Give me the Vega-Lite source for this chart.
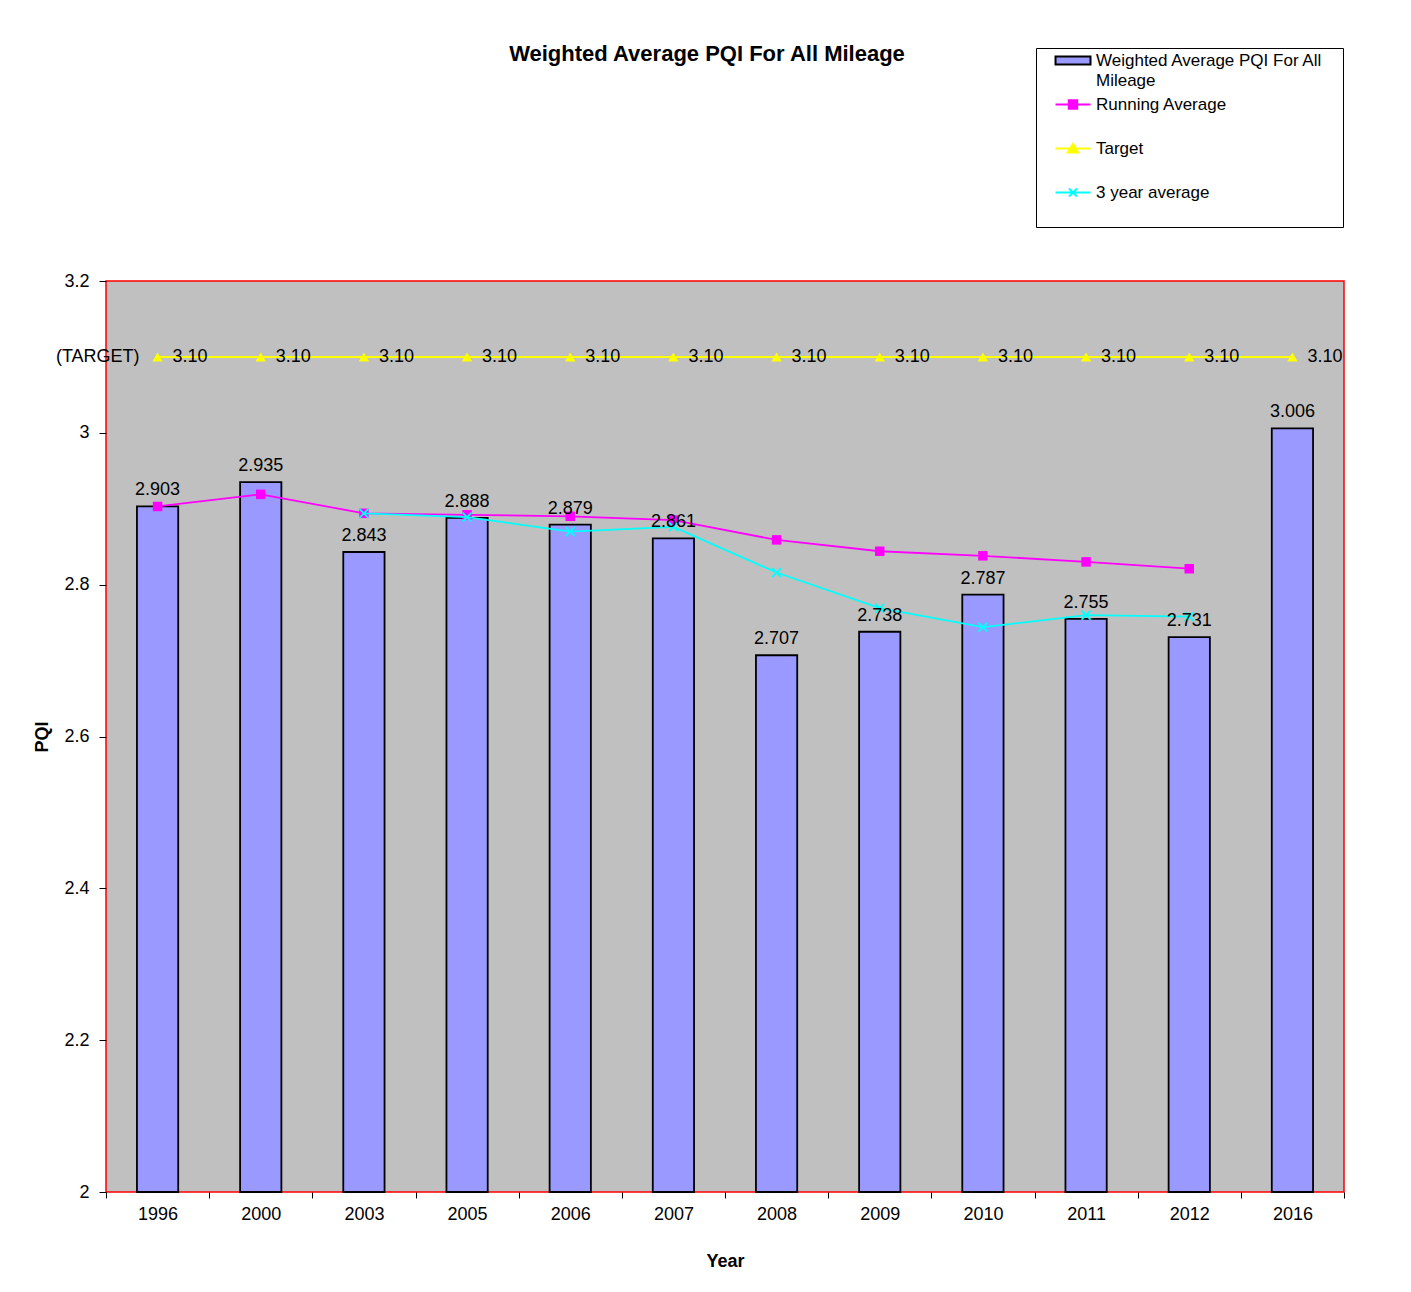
{
  "$schema": "https://vega.github.io/schema/vega-lite/v6.json",
  "width": 1238,
  "height": 911,
  "autosize": {"type": "none"},
  "padding": {"left": 106, "top": 281, "right": 67, "bottom": 100},
  "background": "white",
  "config": {
    "font": "Liberation Sans",
    "view": {"fill": "#C0C0C0", "stroke": "#FF0000", "strokeWidth": 1.5},
    "style": {"guide-label": {"lineHeight": 20}}
  },
  "title": {
    "text": "Weighted Average PQI For All Mileage",
    "fontSize": 22,
    "fontWeight": "bold",
    "font": "Liberation Sans",
    "color": "#000000",
    "anchor": "middle",
    "frame": "group",
    "dx": -18,
    "offset": -35,
    "baseline": "alphabetic"
  },
  "datasets": {
    "pqi": [
      {"Year": "1996", "PQI": 2.903, "Running": 2.903, "ThreeYr": null, "Target": 3.1},
      {"Year": "2000", "PQI": 2.935, "Running": 2.919, "ThreeYr": null, "Target": 3.1},
      {"Year": "2003", "PQI": 2.843, "Running": 2.894, "ThreeYr": 2.894, "Target": 3.1},
      {"Year": "2005", "PQI": 2.888, "Running": 2.892, "ThreeYr": 2.889, "Target": 3.1},
      {"Year": "2006", "PQI": 2.879, "Running": 2.890, "ThreeYr": 2.870, "Target": 3.1},
      {"Year": "2007", "PQI": 2.861, "Running": 2.885, "ThreeYr": 2.876, "Target": 3.1},
      {"Year": "2008", "PQI": 2.707, "Running": 2.859, "ThreeYr": 2.816, "Target": 3.1},
      {"Year": "2009", "PQI": 2.738, "Running": 2.844, "ThreeYr": 2.769, "Target": 3.1},
      {"Year": "2010", "PQI": 2.787, "Running": 2.838, "ThreeYr": 2.744, "Target": 3.1},
      {"Year": "2011", "PQI": 2.755, "Running": 2.830, "ThreeYr": 2.760, "Target": 3.1},
      {"Year": "2012", "PQI": 2.731, "Running": 2.821, "ThreeYr": 2.758, "Target": 3.1},
      {"Year": "2016", "PQI": 3.006, "Running": null, "ThreeYr": null, "Target": 3.1}
    ],
    "note": [
      {"Year": "1996", "Target": 3.1, "note": "(TARGET)"}
    ],
    "legendRows": [
      {"series": "Weighted Average PQI For All Mileage", "v": null},
      {"series": "Running Average", "v": null},
      {"series": "Target", "v": null},
      {"series": "3 year average", "v": null}
    ]
  },
  "encoding": {
    "x": {
      "field": "Year",
      "type": "nominal",
      "scale": {"type": "band", "paddingInner": 0, "paddingOuter": 0},
      "axis": {
        "title": "Year",
        "titleFontSize": 18,
        "titleFontWeight": "bold",
        "titleColor": "#000000",
        "titlePadding": 29,
        "labelAngle": 0,
        "labelFontSize": 18,
        "labelColor": "#000000",
        "labelPadding": 7,
        "tickBand": "extent",
        "tickSize": 6,
        "tickColor": "#000000",
        "domain": false,
        "grid": false
      }
    }
  },
  "layer": [
    {
      "data": {"name": "pqi"},
      "mark": {"type": "bar", "fill": "#9999FF", "stroke": "#000000", "strokeWidth": 1.8, "width": {"band": 0.4}},
      "encoding": {
        "y": {
          "field": "PQI",
          "type": "quantitative",
          "title": "PQI",
          "scale": {"domain": [2, 3.2], "zero": false, "nice": false},
          "axis": {
            "title": "PQI",
            "values": [2, 2.2, 2.4, 2.6, 2.8, 3, 3.2],
            "format": "~g",
            "tickSize": 7,
            "tickColor": "#000000",
            "labelPadding": 10,
            "labelFontSize": 18,
            "labelColor": "#000000",
            "titleFontSize": 18,
            "titleFontWeight": "bold",
            "titleColor": "#000000",
            "titlePadding": 12,
            "domain": false,
            "grid": false
          }
        },
        "y2": {"datum": 2}
      }
    },
    {
      "data": {"name": "pqi"},
      "mark": {"type": "line", "stroke": "#FFFF00", "strokeWidth": 2},
      "encoding": {
        "y": {"field": "Target", "type": "quantitative", "title": "PQI", "scale": {"domain": [2, 3.2], "zero": false, "nice": false}}
      }
    },
    {
      "data": {"name": "pqi"},
      "mark": {"type": "point", "shape": "triangle-up", "filled": true, "fill": "#FFFF00", "size": 110, "opacity": 1},
      "encoding": {
        "y": {"field": "Target", "type": "quantitative", "title": "PQI", "scale": {"domain": [2, 3.2], "zero": false, "nice": false}}
      }
    },
    {
      "data": {"name": "pqi"},
      "mark": {"type": "line", "stroke": "#FF00FF", "strokeWidth": 1.8},
      "encoding": {
        "y": {"field": "Running", "type": "quantitative", "title": "PQI", "scale": {"domain": [2, 3.2], "zero": false, "nice": false}}
      }
    },
    {
      "data": {"name": "pqi"},
      "mark": {"type": "point", "shape": "square", "filled": true, "fill": "#FF00FF", "size": 90, "opacity": 1},
      "encoding": {
        "y": {"field": "Running", "type": "quantitative", "title": "PQI", "scale": {"domain": [2, 3.2], "zero": false, "nice": false}}
      }
    },
    {
      "data": {"name": "pqi"},
      "mark": {"type": "line", "stroke": "#00FFFF", "strokeWidth": 1.8},
      "encoding": {
        "y": {"field": "ThreeYr", "type": "quantitative", "title": "PQI", "scale": {"domain": [2, 3.2], "zero": false, "nice": false}}
      }
    },
    {
      "data": {"name": "pqi"},
      "mark": {"type": "point", "shape": "M-1,-1L1,1M-1,1L1,-1", "filled": false, "stroke": "#00FFFF", "strokeWidth": 1.8, "size": 81, "opacity": 1},
      "encoding": {
        "y": {"field": "ThreeYr", "type": "quantitative", "title": "PQI", "scale": {"domain": [2, 3.2], "zero": false, "nice": false}}
      }
    },
    {
      "data": {"name": "pqi"},
      "mark": {"type": "text", "fontSize": 18, "color": "#000000", "baseline": "alphabetic", "dy": -11},
      "encoding": {
        "y": {"field": "PQI", "type": "quantitative", "title": "PQI", "scale": {"domain": [2, 3.2], "zero": false, "nice": false}},
        "text": {"field": "PQI", "type": "quantitative", "format": ".3f"}
      }
    },
    {
      "data": {"name": "pqi"},
      "mark": {"type": "text", "fontSize": 18, "color": "#000000", "baseline": "middle", "align": "left", "dx": 15},
      "encoding": {
        "y": {"field": "Target", "type": "quantitative", "title": "PQI", "scale": {"domain": [2, 3.2], "zero": false, "nice": false}},
        "text": {"field": "Target", "type": "quantitative", "format": ".2f"}
      }
    },
    {
      "data": {"name": "note"},
      "mark": {"type": "text", "fontSize": 18, "color": "#000000", "baseline": "middle", "align": "right", "dx": -18},
      "encoding": {
        "y": {"field": "Target", "type": "quantitative", "title": "PQI", "scale": {"domain": [2, 3.2], "zero": false, "nice": false}},
        "text": {"field": "note", "type": "nominal"}
      }
    },
    {
      "data": {"name": "legendRows"},
      "mark": {"type": "point", "filled": true, "opacity": 1, "size": 144, "strokeWidth": 2},
      "encoding": {
        "y": {"field": "v", "type": "quantitative", "title": "PQI", "scale": {"domain": [2, 3.2], "zero": false, "nice": false}},
        "fill": {
          "field": "series",
          "type": "nominal",
          "scale": {
            "domain": ["Weighted Average PQI For All Mileage", "Running Average", "Target", "3 year average"],
            "range": ["#9999FF", "#FF00FF", "#FFFF00", "#00FFFF"]
          },
          "legend": {
            "title": null, "orient": "none", "legendX": 930, "legendY": -233,
            "padding": 4, "strokeColor": "#000000", "fillColor": "#FFFFFF",
            "symbolSize": 144, "symbolStrokeWidth": 2, "symbolOpacity": 1,
            "labelFontSize": 17, "labelFont": "Liberation Sans", "labelColor": "#000000",
            "labelBaseline": "middle", "labelOffset": 39, "rowPadding": 4, "gridAlign": "all", "labelLimit": 400,
            "labelExpr": "datum.label == 'Weighted Average PQI For All Mileage' ? ['Weighted Average PQI For All', 'Mileage'] : datum.label"
          }
        },
        "stroke": {
          "field": "series",
          "type": "nominal",
          "scale": {
            "domain": ["Weighted Average PQI For All Mileage", "Running Average", "Target", "3 year average"],
            "range": ["#000000", "#FF00FF", "#FFFF00", "#00FFFF"]
          },
          "legend": {
            "title": null, "orient": "none", "legendX": 930, "legendY": -233,
            "padding": 4, "strokeColor": "#000000", "fillColor": "#FFFFFF",
            "symbolSize": 144, "symbolStrokeWidth": 2, "symbolOpacity": 1,
            "labelFontSize": 17, "labelFont": "Liberation Sans", "labelColor": "#000000",
            "labelBaseline": "middle", "labelOffset": 39, "rowPadding": 4, "gridAlign": "all", "labelLimit": 400,
            "labelExpr": "datum.label == 'Weighted Average PQI For All Mileage' ? ['Weighted Average PQI For All', 'Mileage'] : datum.label"
          }
        },
        "shape": {
          "field": "series",
          "type": "nominal",
          "scale": {
            "domain": ["Weighted Average PQI For All Mileage", "Running Average", "Target", "3 year average"],
            "range": [
              "M47.67,0M4.08,4.33M1.17,-0.67H7V0.67H1.17Z",
              "M47.67,0M4.08,4.33M1.17,0H7M3.38,-0.7H4.78V0.7H3.38Z",
              "M47.67,0M4.08,4.33M1.17,0H7M4.08,-0.75L4.95,0.65H3.21Z",
              "M47.67,0M4.08,4.33M1.17,0H7M3.41,-0.67L4.75,0.67M3.41,0.67L4.75,-0.67"
            ]
          },
          "legend": {
            "title": null, "orient": "none", "legendX": 930, "legendY": -233,
            "padding": 4, "strokeColor": "#000000", "fillColor": "#FFFFFF",
            "symbolSize": 144, "symbolStrokeWidth": 2, "symbolOpacity": 1,
            "labelFontSize": 17, "labelFont": "Liberation Sans", "labelColor": "#000000",
            "labelBaseline": "middle", "labelOffset": 39, "rowPadding": 4, "gridAlign": "all", "labelLimit": 400,
            "labelExpr": "datum.label == 'Weighted Average PQI For All Mileage' ? ['Weighted Average PQI For All', 'Mileage'] : datum.label"
          }
        }
      }
    }
  ]
}
